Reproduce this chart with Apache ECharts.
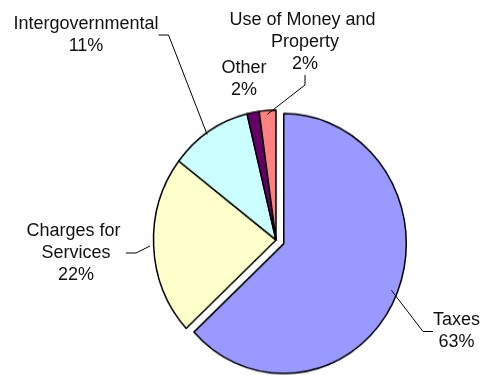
<!DOCTYPE html>
<html><head><meta charset="utf-8">
<script src="https://cdn.jsdelivr.net/npm/echarts@6/dist/echarts.min.js"></script>
<style>
html,body{margin:0;padding:0;background:#fff}
#wrap{position:relative;width:481px;height:375px;overflow:hidden;background:#fff}
#pie{position:absolute;left:0;top:0;width:481px;height:354px;transform:scaleY(1.061);transform-origin:0 0}
#lab{position:absolute;left:0;top:0;width:481px;height:375px}
</style>
</head><body><div id="wrap"><div id="pie"></div><div id="lab"></div></div>
<script>
// Data
const categories = ['Taxes', 'Charges for Services', 'Intergovernmental', 'Other', 'Use of Money and Property'];
const values = [63.1, 22.3, 10.8, 1.6, 2.2];

// Styles / layout (not data)
const colors = ['#9999FF', '#FFFFCC', '#CCFFFF', '#660066', '#FF8080'];
const labelCenters = [[456.5, 331.5], [76, 253], [86, 35], [244, 79], [305, 42]];
const labelWidths = [undefined, 100, undefined, undefined, 152];
const showLines = [true, true, true, false, true];
const explodedIndex = 0;
const stretchY = 1.061;
const CX = 276, CY = 240, RX = 122.5;
const clear = 'rgba(0,0,0,0)';

const common = {
  type: 'pie',
  startAngle: 90,
  clockwise: true,
  silent: true,
  avoidLabelOverlap: false,
  percentPrecision: 0,
  emphasis: {disabled: true}
};

// ---- Pie slices (drawn in a vertically stretched chart, the reference pie is elliptical)
const pieChart = echarts.init(document.getElementById('pie'), null, {renderer: 'canvas'});
const pieCenter = [CX, CY / stretchY];
const baseData = categories.map((name, i) => ({
  name: name,
  value: values[i],
  itemStyle: i === explodedIndex ? {color: clear, borderWidth: 0} : {color: colors[i]}
}));
const explodedData = categories.map((name, i) => ({
  name: name,
  value: values[i],
  selected: i === explodedIndex,
  itemStyle: i === explodedIndex ? {color: colors[i]} : {color: clear, borderWidth: 0}
}));
pieChart.setOption({
  animation: false,
  backgroundColor: '#fff',
  series: [
    Object.assign({}, common, {
      center: pieCenter, radius: RX,
      selectedMode: false,
      itemStyle: {borderColor: '#000', borderWidth: 1.5},
      label: {show: false}, labelLine: {show: false},
      data: baseData
    }),
    Object.assign({}, common, {
      center: pieCenter, radius: RX,
      selectedMode: 'single', selectedOffset: 8.5,
      itemStyle: {borderColor: '#000', borderWidth: 1.5},
      label: {show: false}, labelLine: {show: false},
      data: explodedData
    })
  ]
});

// ---- Labels and leader lines (unstretched chart, invisible slices as anchors)
const labChart = echarts.init(document.getElementById('lab'), null, {renderer: 'canvas'});
const labData = categories.map((name, i) => {
  const item = {
    name: name,
    value: values[i],
    itemStyle: {color: clear, borderWidth: 0},
    labelLine: {show: showLines[i]}
  };
  if (labelWidths[i]) item.label = {width: labelWidths[i], overflow: 'break'};
  return item;
});
labChart.setOption({
  animation: false,
  backgroundColor: clear,
  series: [Object.assign({}, common, {
    center: [CX, CY],
    radius: 126,
    selectedMode: false,
    label: {
      show: true,
      position: 'outside',
      formatter: '{b}\n{d}%',
      fontFamily: 'Arial, "Liberation Sans", sans-serif',
      fontSize: 18,
      lineHeight: 22,
      color: '#111',
      align: 'center'
    },
    labelLine: {show: true, length: 10, length2: 10, lineStyle: {color: '#000', width: 1}},
    labelLayout: function (p) {
      const c = labelCenters[p.dataIndex];
      return {x: c[0], y: c[1], align: 'center', verticalAlign: 'middle', hideOverlap: false};
    },
    data: labData
  })]
});
</script>
</body></html>
